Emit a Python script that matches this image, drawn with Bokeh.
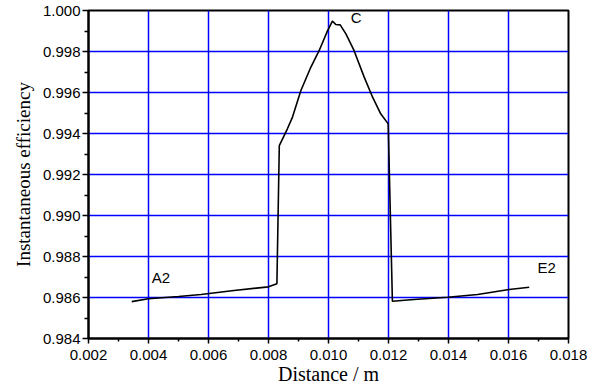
from bokeh.plotting import figure
from bokeh.models import FixedTicker, Range1d, PrintfTickFormatter, ColumnDataSource
from bokeh.core.properties import value
from bokeh.embed import file_html
from bokeh.resources import INLINE

# data
distance = [0.00344, 0.0040, 0.0050, 0.00575, 0.00685, 0.0080, 0.00828,
            0.00836, 0.00863, 0.0088, 0.00908, 0.00941, 0.00969, 0.00997,
            0.01013, 0.01024, 0.01039, 0.01058, 0.01085, 0.01119, 0.01147,
            0.01174, 0.01199, 0.01213, 0.01285, 0.01397, 0.01497, 0.01602,
            0.01669]
efficiency = [0.98580, 0.98594, 0.98605, 0.98615, 0.98634, 0.98652, 0.98667,
              0.99341, 0.99423, 0.99480, 0.99610, 0.99723, 0.99805, 0.99902,
              0.99948, 0.99932, 0.99930, 0.99886, 0.99805, 0.99675, 0.99577,
              0.99496, 0.99447, 0.98582, 0.98590, 0.98601, 0.98615, 0.98639,
              0.98650]

label_text = ["A2", "C", "E2"]
label_x = [0.00411, 0.01074, 0.01697]
label_y = [0.98699, 0.99966, 0.98745]

x_ticks = [0.002, 0.004, 0.006, 0.008, 0.010, 0.012, 0.014, 0.016, 0.018]
x_minor = [0.003, 0.005, 0.007, 0.009, 0.011, 0.013, 0.015, 0.017]
y_ticks = [0.984, 0.986, 0.988, 0.990, 0.992, 0.994, 0.996, 0.998, 1.000]
y_minor = [0.985, 0.987, 0.989, 0.991, 0.993, 0.995, 0.997, 0.999]

p = figure(width=590, height=388, output_backend="svg", toolbar_location=None,
           x_range=Range1d(0.002, 0.018), y_range=Range1d(0.984, 1.000),
           min_border_left=88, min_border_right=22, min_border_top=10,
           min_border_bottom=50)

p.background_fill_color = "white"
p.border_fill_color = "white"
p.outline_line_color = "black"
p.outline_line_width = 2

p.xgrid.ticker = FixedTicker(ticks=x_ticks)
p.ygrid.ticker = FixedTicker(ticks=y_ticks)
p.xgrid.grid_line_color = "#0000ff"
p.ygrid.grid_line_color = "#0000ff"
p.xgrid.grid_line_width = 1.5
p.ygrid.grid_line_width = 1.5
p.xgrid.grid_line_alpha = 1.0
p.ygrid.grid_line_alpha = 1.0

p.line(distance, efficiency, line_color="black", line_width=1.6)

src = ColumnDataSource(dict(x=label_x, y=label_y, t=label_text))
p.text(x="x", y="y", text="t", source=src, text_align="left",
       text_baseline="middle", text_font=value("Liberation Sans"),
       text_font_size="15px", text_color="black")

p.xaxis.ticker = FixedTicker(ticks=x_ticks, minor_ticks=x_minor)
p.yaxis.ticker = FixedTicker(ticks=y_ticks, minor_ticks=y_minor)
p.xaxis.formatter = PrintfTickFormatter(format="%.3f")
p.yaxis.formatter = PrintfTickFormatter(format="%.3f")

for ax in (p.xaxis[0], p.yaxis[0]):
    ax.axis_line_color = "black"
    ax.axis_line_width = 2
    ax.major_tick_line_color = "black"
    ax.minor_tick_line_color = "black"
    ax.major_tick_line_width = 1.5
    ax.minor_tick_line_width = 1.5
    ax.major_tick_in = 0
    ax.minor_tick_in = 0
    ax.major_label_text_font = "Liberation Sans"
    ax.major_label_text_font_size = "15px"
    ax.major_label_text_color = "black"
    ax.axis_label_text_font = "Liberation Serif"
    ax.axis_label_text_font_style = "normal"
    ax.axis_label_text_color = "black"

p.xaxis.axis_label_text_font_size = "20px"
p.yaxis.axis_label_text_font_size = "19px"
p.xaxis.major_tick_out = 5
p.xaxis.minor_tick_out = 3
p.yaxis.major_tick_out = 6
p.yaxis.minor_tick_out = 4
p.xaxis.major_label_standoff = 6
p.yaxis.major_label_standoff = 2
p.xaxis.axis_label_standoff = 0
p.yaxis.axis_label_standoff = 6

p.xaxis.axis_label = "Distance / m"
p.yaxis.axis_label = "Instantaneous efficiency"

open("out.html", "w").write(file_html(p, INLINE))
